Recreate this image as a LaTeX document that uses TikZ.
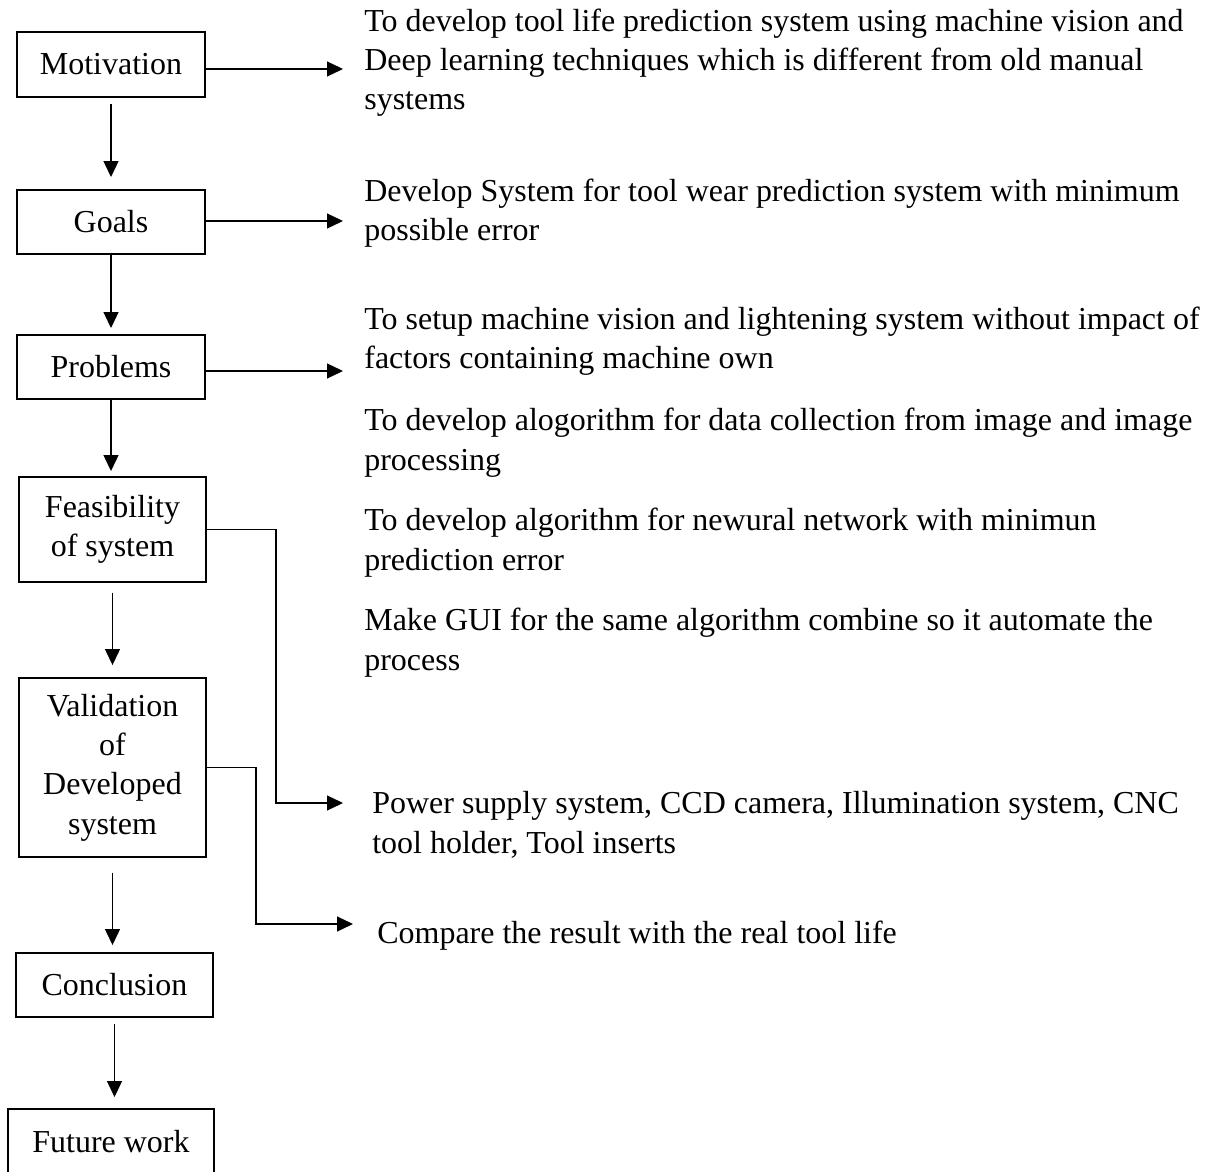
\documentclass[tikz,border=0pt]{standalone}
\usepackage{fontspec}
\setmainfont{Liberation Serif}
\usetikzlibrary{arrows.meta}

\begin{document}
\begin{tikzpicture}[
    x=0.02cm, y=-0.02cm,
    every node/.style = {font=\fontsize{18.2}{22.4}\selectfont},
    box/.style = {draw, rectangle, line width=1.1pt, align=center, inner sep=0pt},
    note/.style = {anchor=base west, align=left, inner sep=0pt},
    flow/.style = {-{Triangle[length=0.32cm, width=0.3cm]}, line width=0.7pt}
  ]
    \clip (0,0) rectangle (1217,1172);

    % left column
    \node[box, minimum width=3.76cm, minimum height=1.3cm] (mot) at (111,64.5) {Motivation};
    \node[box, minimum width=3.76cm, minimum height=1.28cm] (goals) at (111,222) {Goals};
    \node[box, minimum width=3.76cm, minimum height=1.28cm] (prob) at (111,367) {Problems};
    \node[box, minimum width=3.74cm, minimum height=2.1cm] (feas) at (112.5,529.5) {Feasibility\\of system};
    \node[box, minimum width=3.74cm, minimum height=3.58cm] (valid) at (112.5,767.5) {Validation\\of\\Developed\\system};
    \node[box, minimum width=3.94cm, minimum height=1.28cm] (concl) at (114.5,985) {Conclusion};
    \node[box, minimum width=4.12cm, minimum height=1.3cm] (fut) at (111,1141.5) {Future work};  % cut by the page edge

    % right column (base = last line)
    \node[note] (tMot) at (364,110) {To develop tool life prediction system using machine vision and\\Deep learning techniques which is different from old manual\\systems};
    \node[note] (tGoals) at (364,241) {Develop System for tool wear prediction system with minimum\\possible error};
    \node[note] (tProb1) at (364,369) {To setup machine vision and lightening system without impact of\\factors containing machine own};
    \node[note] (tProb2) at (364,470) {To develop alogorithm for data collection from image and image\\processing};
    \node[note] (tProb3) at (364,570) {To develop algorithm for newural network with minimun\\prediction error};
    \node[note] (tProb4) at (364,670) {Make GUI for the same algorithm combine so it automate the\\process};
    \node[note] (tFeas) at (372,853) {Power supply system, CCD camera, Illumination system, CNC\\tool holder, Tool inserts};
    \node[note] (tValid) at (377,943) {Compare the result with the real tool life};

    % arrow ends
    \coordinate (aMot) at (343,69);
    \coordinate (aGoals) at (343,221);
    \coordinate (aProb) at (343,371);
    \coordinate (aFeas) at (343,803);
    \coordinate (aValid) at (353,924);

    % main flow
    \draw[flow, shorten <=0.12cm, shorten >=0.24cm] (mot.south) -- (mot.south |- goals.north);
    \draw[flow, shorten >=0.12cm] (goals.south) -- (goals.south |- prob.north);
    \draw[flow, shorten >=0.1cm] (prob.south) -- (prob.south |- feas.north);
    \draw[flow, shorten <=0.2cm, shorten >=0.24cm] (feas.south) -- (feas.south |- valid.north);
    \draw[flow, shorten <=0.3cm, shorten >=0.14cm] (valid.south) -- (valid.south |- concl.north);
    \draw[flow, shorten <=0.12cm, shorten >=0.22cm] (concl.south) -- (concl.south |- fut.north);

    % side arrows
    \draw[flow] (mot.east |- aMot) -- (aMot);
    \draw[flow] (goals.east |- aGoals) -- (aGoals);
    \draw[flow] (prob.east |- aProb) -- (aProb);
    \draw[flow] (feas.east) -- ++(69,0) |- (aFeas);
    \draw[flow] (valid.east) -- ++(49,0) |- (aValid);
\end{tikzpicture}
\end{document}
